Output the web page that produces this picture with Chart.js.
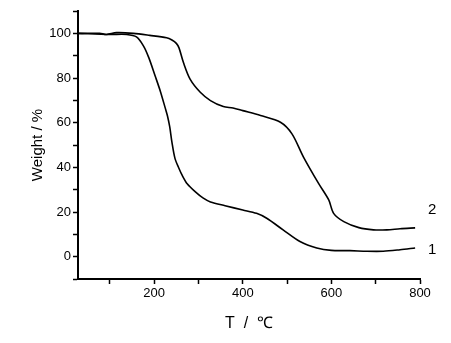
<!DOCTYPE html>
<html>
<head>
<meta charset="utf-8">
<script src="https://cdn.jsdelivr.net/npm/chart.js@4/dist/chart.umd.min.js"></script>
<style>
  html, body { margin: 0; padding: 0; background: #fff; }
  #wrap { width: 451px; height: 343px; }
</style>
</head>
<body>
<div id="wrap"><canvas id="c"></canvas></div>
<script>
// TGA curves (T in °C, weight in %)
const temp1 = [28, 100, 138, 160, 176, 188, 202, 214, 225, 230, 235, 240, 247, 256, 263, 275, 293, 310, 327, 360, 400, 431, 454, 491, 529, 567, 600, 642, 680, 717, 755, 789];
const weight1 = [100, 99.5, 99.5, 98.4, 94.3, 89, 81, 74, 66.5, 63, 58.2, 51.3, 43.9, 39.5, 36.5, 32.5, 29, 26.3, 24.5, 22.8, 20.9, 19.4, 17.2, 12, 6.8, 3.9, 2.8, 2.7, 2.4, 2.4, 3.1, 3.9];

const temp2 = [28, 77, 92, 115, 153, 190, 228, 240, 250, 256, 266, 281, 304, 327, 356, 378, 400, 440, 485, 511, 537, 571, 594, 605, 628, 662, 695, 725, 755, 789];
const weight2 = [100, 100, 99.5, 100.3, 100, 99.1, 98, 97, 95.5, 93.5, 86.9, 79.5, 73.6, 69.9, 67.2, 66.6, 65.4, 63.2, 60.2, 55, 44.6, 32.8, 25.4, 19.4, 15.7, 13, 12, 12, 12.5, 12.9];

const curveNames = ['1', '2'];
const xTickLabels = ['200', '400', '600', '800'];
const yTickLabels = ['0', '20', '40', '60', '80', '100'];

const toPoints = (xs, ys) => xs.map((x, i) => ({ x: x, y: ys[i] }));

const family = "Arial, 'Liberation Sans', sans-serif";
const font = { family: family, size: 13 };

// writes "1" and "2" next to the right end of each curve
const curveLabels = {
  id: 'curveLabels',
  afterDatasetsDraw(chart) {
    const { ctx, scales } = chart;
    ctx.save();
    ctx.fillStyle = '#000';
    ctx.font = '15px ' + family;
    ctx.textBaseline = 'middle';
    chart.data.datasets.forEach((ds, i) => {
      const last = ds.data[ds.data.length - 1];
      const x = scales.x.getPixelForValue(800) + 8;
      const y = scales.y.getPixelForValue(i === 0 ? last.y - 1 : last.y + 8);
      ctx.fillText(curveNames[i], x, y);
    });
    ctx.restore();
  }
};

new Chart(document.getElementById('c'), {
  type: 'line',
  data: {
    datasets: [
      { data: toPoints(temp1, weight1) },
      { data: toPoints(temp2, weight2) }
    ]
  },
  options: {
    responsive: true,
    maintainAspectRatio: false,
    animation: false,
    layout: { padding: { top: 11, right: 31, left: 0, bottom: 0 } },
    elements: {
      point: { radius: 0 },
      line: { borderColor: '#000', borderWidth: 1.6, tension: 0.3 }
    },
    plugins: { legend: { display: false }, tooltip: { enabled: false } },
    scales: {
      x: {
        type: 'linear',
        min: 28,
        max: 800,
        afterBuildTicks(s) { s.ticks = [100, 200, 300, 400, 500, 600, 700, 800].map(v => ({ value: v })); },
        afterFit(s) { s.height = 64; },
        border: { color: '#000', width: 2 },
        grid: { drawOnChartArea: false, drawTicks: true, tickLength: 5, color: '#000', tickWidth: 1.5 },
        ticks: {
          color: '#000', font: font, padding: 2, maxRotation: 0,
          callback: v => xTickLabels.includes(String(v)) ? String(v) : ''
        },
        title: { display: true, text: 'T  /  ℃', color: '#000', font: { family: family, size: 16 }, padding: { top: 6, bottom: 10 } }
      },
      y: {
        min: -10,
        max: 110,
        afterBuildTicks(s) { s.ticks = [-10, 0, 10, 20, 30, 40, 50, 60, 70, 80, 90, 100, 110].map(v => ({ value: v })); },
        afterFit(s) { s.width = 78; },
        border: { color: '#000', width: 2 },
        grid: { drawOnChartArea: false, drawTicks: true, tickLength: 5, color: '#000', tickWidth: 1.5 },
        ticks: {
          color: '#000', font: font, padding: 2,
          callback: v => yTickLabels.includes(String(v)) ? String(v) : ''
        },
        title: { display: true, text: 'Weight / %', color: '#000', font: { family: family, size: 15 }, padding: { top: 29, bottom: 4 } }
      }
    }
  },
  plugins: [curveLabels]
});
</script>
</body>
</html>
